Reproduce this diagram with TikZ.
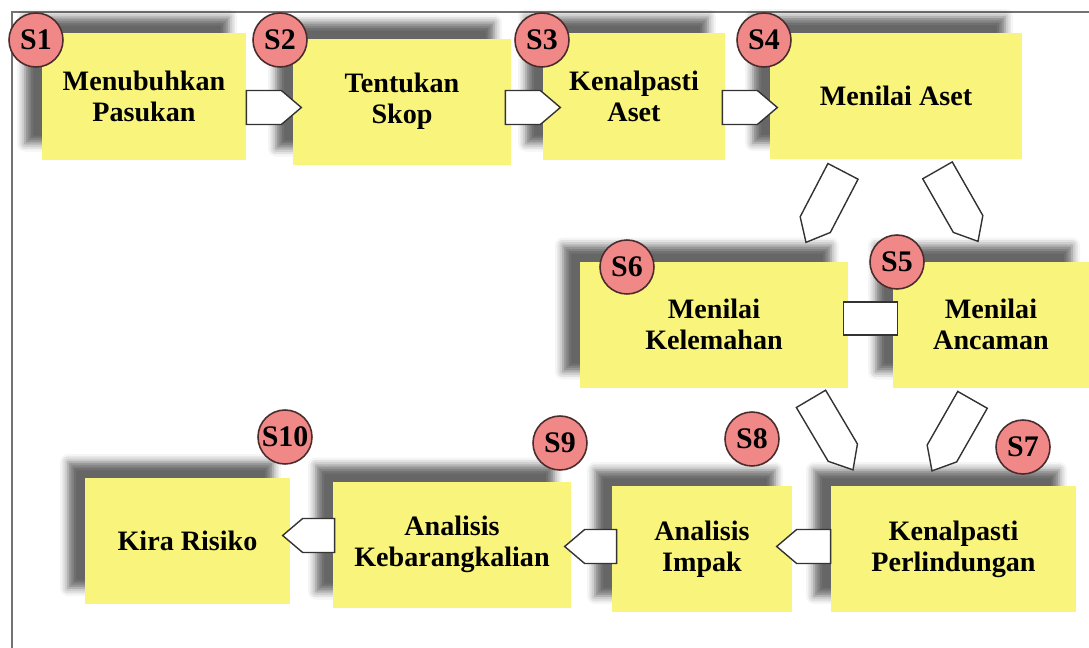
\documentclass[tikz,border=0pt]{standalone}
\usepackage{fontspec}
\setmainfont{Liberation Serif}
\usepackage{tikz}
\usetikzlibrary{calc, shadows.blur}

\definecolor{stepyellow}{HTML}{F9F47C}
\definecolor{steppink}{HTML}{F08888}
\definecolor{stepedge}{HTML}{4A2C2C}

\tikzset{
  stepbox/.style={fill=stepyellow, minimum height=2.52cm, align=center, inner sep=0pt,
    font=\bfseries\fontsize{16}{17.6}\selectfont,
    blur shadow={shadow xshift=-0.34cm, shadow yshift=0.32cm, shadow blur radius=0.16cm, shadow opacity=60}},
  stepmark/.style={circle, fill=steppink, draw=stepedge, line width=0.9pt, minimum size=1.08cm,
    inner sep=0pt, font=\bfseries\fontsize{17}{17}\selectfont},
  arrowbox/.style={fill=white, draw=black!80, line width=0.8pt, line join=miter},
  linkbox/.style={arrowbox, minimum width=1.08cm, minimum height=0.66cm, inner sep=0pt}
}

% block arrow from tail centre #1 to tip #2
\newcommand{\blockarrow}[2]{%
  \path ($(#2)!0.4cm!(#1)$) coordinate (shoulder);
  \draw[arrowbox] ($(#1)!0.34cm!90:(#2)$) -- ($(shoulder)!0.34cm!-90:(#1)$) -- (#2)
    -- ($(shoulder)!0.34cm!90:(#1)$) -- ($(#1)!0.34cm!-90:(#2)$) -- cycle;
}

\begin{document}
\begin{tikzpicture}
  \useasboundingbox (0cm, 0cm) rectangle (21.78cm, -12.96cm);
  \draw[black!55, line width=1.1pt] (0.24cm, -12.96cm) -- (0.24cm, -0.24cm) -- (21.78cm, -0.24cm);

  % steps
  \node[stepbox, minimum width=4.08cm] (s1) at (2.88cm, -1.93cm) {Menubuhkan\\Pasukan};
  \node[stepbox, minimum width=4.36cm] (s2) at (8.04cm, -2.03cm) {Tentukan\\Skop};
  \node[stepbox, minimum width=3.64cm] (s3) at (12.68cm, -1.93cm) {Kenalpasti\\Aset};
  \node[stepbox, minimum width=5.04cm] (s4) at (17.92cm, -1.92cm) {Menilai Aset};
  \node[stepbox, minimum width=5.36cm] (s6) at (14.28cm, -6.49cm) {Menilai\\Kelemahan};
  \node[stepbox, minimum width=3.92cm] (s5) at (19.82cm, -6.49cm) {Menilai\\Ancaman};
  \node[stepbox, minimum width=4.9cm] (s7) at (19.07cm, -10.98cm) {Kenalpasti\\Perlindungan};
  \node[stepbox, minimum width=3.6cm] (s8) at (14.04cm, -10.98cm) {Analisis\\Impak};
  \node[stepbox, minimum width=4.76cm] (s9) at (9.04cm, -10.89cm) {Analisis\\Kebarangkalian};
  \node[stepbox, minimum width=4.1cm] (s10) at (3.75cm, -10.82cm) {Kira Risiko};

  % arrows
  \coordinate (t12) at ([yshift=-0.22cm]s1.east);
  \coordinate (h12) at ([xshift=1.1cm]t12);
  \coordinate (t23) at ([xshift=-0.12cm, yshift=-0.12cm]s2.east);
  \coordinate (h23) at ([xshift=1.1cm]t23);
  \coordinate (t34) at ([xshift=-0.06cm, yshift=-0.22cm]s3.east);
  \coordinate (h34) at ([xshift=1.1cm]t34);
  \coordinate (t46) at ([xshift=-1.06cm, yshift=-0.24cm]s4.south);
  \coordinate (h46) at ([xshift=-0.74cm, yshift=-1.42cm]t46);
  \coordinate (t45) at ([xshift=0.83cm, yshift=-0.22cm]s4.south);
  \coordinate (h45) at ([xshift=0.81cm, yshift=-1.42cm]t45);
  \coordinate (t68) at ([xshift=1.94cm, yshift=-0.22cm]s6.south);
  \coordinate (h68) at ([xshift=0.84cm, yshift=-1.42cm]t68);
  \coordinate (t57) at ([xshift=-0.37cm, yshift=-0.24cm]s5.south);
  \coordinate (h57) at ([xshift=-0.81cm, yshift=-1.42cm]t57);
  \coordinate (t78) at ([yshift=0.05cm]s7.west);
  \coordinate (h78) at ([xshift=-1.08cm]t78);
  \coordinate (t89) at ([xshift=0.1cm, yshift=0.05cm]s8.west);
  \coordinate (h89) at ([xshift=-1.04cm]t89);
  \coordinate (t910) at ([xshift=0.04cm, yshift=0.18cm]s9.west);
  \coordinate (h910) at ([xshift=-1.04cm]t910);

  \blockarrow{t12}{h12}
  \blockarrow{t23}{h23}
  \blockarrow{t34}{h34}
  \blockarrow{t46}{h46}
  \blockarrow{t45}{h45}
  \blockarrow{t68}{h68}
  \blockarrow{t57}{h57}
  \blockarrow{t78}{h78}
  \blockarrow{t89}{h89}
  \blockarrow{t910}{h910}
  \node[linkbox, yshift=0.12cm] (l65) at ($(s6.east)!0.5!(s5.west)$) {};

  % step numbers
  \node[stepmark] (m1) at (0.72cm, -0.8cm) {S1};
  \node[stepmark] (m2) at (5.6cm, -0.8cm) {S2};
  \node[stepmark] (m3) at (10.84cm, -0.8cm) {S3};
  \node[stepmark] (m4) at (15.28cm, -0.8cm) {S4};
  \node[stepmark] (m6) at (12.54cm, -5.34cm) {S6};
  \node[stepmark] (m5) at (17.94cm, -5.24cm) {S5};
  \node[stepmark] (m7) at (20.46cm, -8.94cm) {S7};
  \node[stepmark] (m8) at (15.04cm, -8.78cm) {S8};
  \node[stepmark] (m9) at (11.2cm, -8.86cm) {S9};
  \node[stepmark] (m10) at (5.7cm, -8.74cm) {S10};
\end{tikzpicture}
\end{document}
